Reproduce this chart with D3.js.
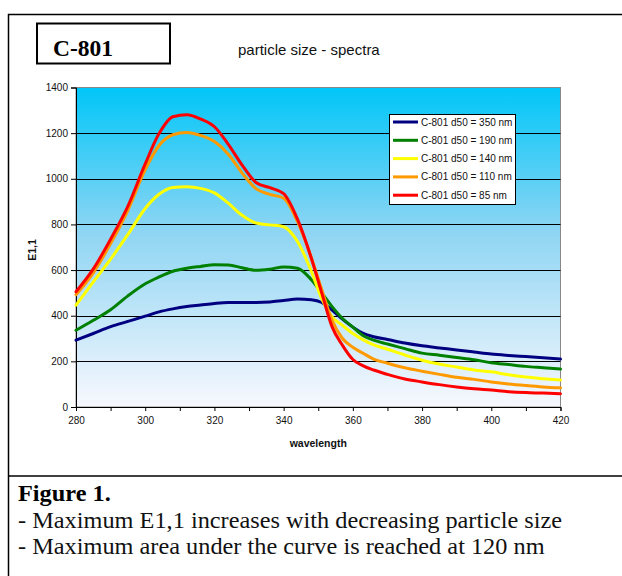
<!DOCTYPE html>
<html><head><meta charset="utf-8">
<script src="https://cdn.jsdelivr.net/npm/d3@7/dist/d3.min.js"></script>
<style>body{margin:0;background:#fff}svg{display:block}</style>
</head><body><svg id="c" width="622" height="576"></svg>
<script>
// ---- data ----
const wavelengths = [280,285,290,295,300,304,308,312,316,320,324,328,332,336,340,344,348,351,354,357,360,363,366,370,375,380,385,390,395,400,405,410,415,420];
const d50_350 = [293,322,352,375,398,417,430,440,447,454,458,458,458,460,467,473,470,458,425,385,350,323,308,296,280,268,259,250,241,232,226,221,216,210];
const d50_190 = [336,380,426,487,540,570,595,608,616,623,622,610,599,604,614,608,558,500,440,388,350,312,293,276,256,236,227,217,207,194,186,178,172,166];
const d50_140 = [446,548,648,756,870,932,962,965,958,938,893,840,806,798,790,725,595,475,395,358,322,294,272,253,228,205,188,175,162,154,141,131,124,118];
const d50_110 = [492,588,716,862,1040,1146,1193,1203,1190,1163,1108,1025,957,932,915,812,655,515,380,300,262,235,210,192,172,157,143,130,121,110,101,94,88,84];
const d50_85  = [505,605,735,880,1065,1198,1272,1281,1262,1228,1151,1060,984,961,935,823,652,500,351,270,208,180,162,143,123,110,98,88,80,74,67,63,61,58];
const seriesLabels = ["C-801 d50 = 350 nm","C-801 d50 = 190 nm","C-801 d50 = 140 nm","C-801 d50 = 110 nm","C-801 d50 = 85 nm"];
const seriesValues = [d50_350, d50_190, d50_140, d50_110, d50_85];
const seriesColors = ["#000080","#008000","#ffff00","#ff9900","#ff0000"];
const xTickLabels = [280,300,320,340,360,380,400,420];
const xMinorTicks = [280,290,300,310,320,330,340,350,360,370,380,390,400,410,420];
const yTickLabels = [0,200,400,600,800,1000,1200,1400];
const chartTitle = "particle size - spectra";
const boxTitle = "C-801";
const xTitle = "wavelength";
const yTitle = "E1,1";
const captionHead = "Figure 1.";
const captionLines = ["- Maximum E1,1 increases with decreasing particle size","- Maximum area under the curve is reached at 120 nm"];

// ---- layout ----
const svg = d3.select("#c");
const L = 76, R = 560.5, T = 87.5, B = 407;
const x = d3.scaleLinear().domain([280,420]).range([L,R]);
const y = d3.scaleLinear().domain([0,1400]).range([B,T]);

// outer frame
svg.append("line").attr("x1",8).attr("x2",622).attr("y1",14.5).attr("y2",14.5).attr("stroke","#000").attr("stroke-width",1.5);
svg.append("line").attr("x1",8.5).attr("x2",8.5).attr("y1",14).attr("y2",576).attr("stroke","#000").attr("stroke-width",1.5);
svg.append("line").attr("x1",8).attr("x2",622).attr("y1",476).attr("y2",476).attr("stroke","#000").attr("stroke-width",1.5);

// title box
svg.append("rect").attr("x",37).attr("y",23.5).attr("width",133).attr("height",40).attr("fill","#fff").attr("stroke","#000").attr("stroke-width",2);
svg.append("text").attr("x",53).attr("y",56).attr("font-family","Liberation Serif, Times New Roman, serif").attr("font-weight","bold").attr("font-size",23.5).text(boxTitle);
svg.append("text").attr("x",238).attr("y",55).attr("font-family","Liberation Sans, Arial, sans-serif").attr("font-size",15).attr("fill","#111").text(chartTitle);

// gradient
const defs = svg.append("defs");
const g = defs.append("linearGradient").attr("id","bg").attr("x1",0).attr("x2",0).attr("y1",0).attr("y2",1);
g.append("stop").attr("offset","0%").attr("stop-color","#00c6f8");
g.append("stop").attr("offset","45%").attr("stop-color","#8ed5f3");
g.append("stop").attr("offset","100%").attr("stop-color","#f8f8fe");
svg.append("rect").attr("x",L).attr("y",T).attr("width",R-L).attr("height",B-T).attr("fill","url(#bg)").attr("stroke","#888").attr("stroke-width",1);

// gridlines
svg.append("g").selectAll("line").data(yTickLabels.filter(v=>v>0 && v<1400)).join("line")
  .attr("x1",L).attr("x2",R).attr("y1",d=>Math.round(y(d))+0.5).attr("y2",d=>Math.round(y(d))+0.5)
  .attr("stroke","#000").attr("stroke-width",1);

// axes
const yAxis = svg.append("g").attr("transform",`translate(${L},0)`)
  .call(d3.axisLeft(y).tickValues(yTickLabels).tickSize(5).tickPadding(3).tickFormat(d3.format("d")));
const xAxis = svg.append("g").attr("transform",`translate(0,${B})`)
  .call(d3.axisBottom(x).tickValues(xMinorTicks).tickSize(4).tickPadding(6).tickFormat(d=>xTickLabels.includes(d)?String(d):""));
[yAxis,xAxis].forEach(a=>{
  a.selectAll("text").attr("font-family","Liberation Sans, Arial, sans-serif").attr("font-size",10).attr("fill","#111");
  a.selectAll("line").attr("stroke","#000");
  a.select(".domain").attr("stroke","#000");
});

// axis titles
svg.append("text").attr("x",L+(R-L)/2).attr("y",447).attr("text-anchor","middle")
  .attr("font-family","Liberation Sans, Arial, sans-serif").attr("font-weight","bold").attr("font-size",10.5).attr("fill","#111").text(xTitle);
svg.append("text").attr("transform","translate(36,250) rotate(-90)").attr("text-anchor","middle")
  .attr("font-family","Liberation Sans, Arial, sans-serif").attr("font-weight","bold").attr("font-size",10.5).attr("fill","#111").text(yTitle);

// series
const line = d3.line().x((d,i)=>x(wavelengths[i])).y(d=>y(d)).curve(d3.curveMonotoneX);
svg.append("g").selectAll("path").data(seriesValues).join("path")
  .attr("d",d=>line(d)).attr("fill","none").attr("stroke",(d,i)=>seriesColors[i])
  .attr("stroke-width",3).attr("stroke-linejoin","round").attr("stroke-linecap","round");

// legend
const lg = svg.append("g");
lg.append("rect").attr("x",389.5).attr("y",114.5).attr("width",126).attr("height",90).attr("fill","#fff").attr("stroke","#000").attr("stroke-width",1);
seriesLabels.forEach((s,i)=>{
  const yy = 122 + i*18.3;
  lg.append("line").attr("x1",393).attr("x2",418).attr("y1",yy).attr("y2",yy).attr("stroke",seriesColors[i]).attr("stroke-width",3);
  lg.append("text").attr("x",421).attr("y",yy+3.5).attr("font-family","Liberation Sans, Arial, sans-serif").attr("font-size",10).attr("fill","#111").text(s);
});

// caption (slightly widened like the source scan)
svg.append("text").attr("transform","translate(18,501) scale(1.058,1)").attr("font-family","Liberation Serif, Times New Roman, serif").attr("font-weight","bold").attr("font-size",23).text(captionHead);
captionLines.forEach((t,i)=>{
  svg.append("text").attr("transform",`translate(18,${527.5+i*26.5}) scale(1.058,1)`).attr("font-family","Liberation Serif, Times New Roman, serif").attr("font-size",23).attr("fill","#111").text(t);
});
</script>
</body></html>
